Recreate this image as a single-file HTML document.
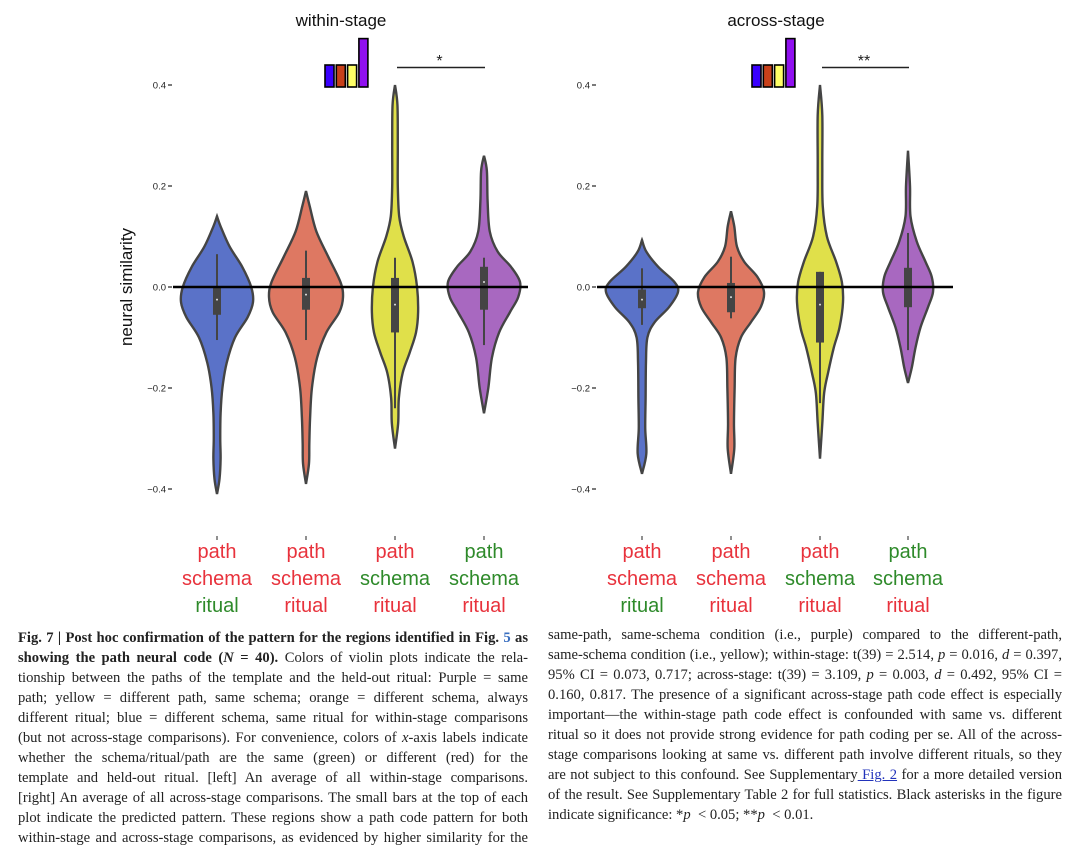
<!DOCTYPE html>
<html><head><meta charset="utf-8">
<style>
body{margin:0;background:#fff;width:1080px;height:848px;overflow:hidden;position:relative;font-family:"Liberation Sans",sans-serif}
svg{position:absolute;left:0;top:0}
.cap{position:absolute;font-family:"Liberation Serif",serif;font-size:14.6px;color:#222}
.cap div{height:20px;line-height:20px;text-align:justify;text-align-last:justify;white-space:nowrap}
.cap div.last{text-align-last:left}
a{color:#2233bb}
</style></head><body>
<svg id="chart" width="1080" height="620"></svg>
<div class="cap" style="left:18px;top:628px;width:510px">
<div><b>Fig. 7 | Post hoc confirmation of the pattern for the regions identified in Fig. <span style="color:#3a6fc0">5</span> as</b></div>
<div><b>showing the path neural code (<i>N</i> = 40).</b> Colors of violin plots indicate the rela-</div>
<div>tionship between the paths of the template and the held-out ritual: Purple = same</div>
<div>path; yellow = different path, same schema; orange = different schema, always</div>
<div>different ritual; blue = different schema, same ritual for within-stage comparisons</div>
<div>(but not across-stage comparisons). For convenience, colors of <i>x</i>-axis labels indicate</div>
<div>whether the schema/ritual/path are the same (green) or different (red) for the</div>
<div>template and held-out ritual. [left] An average of all within-stage comparisons.</div>
<div>[right] An average of all across-stage comparisons. The small bars at the top of each</div>
<div>plot indicate the predicted pattern. These regions show a path code pattern for both</div>
<div>within-stage and across-stage comparisons, as evidenced by higher similarity for the</div>
</div>
<div class="cap" style="left:548px;top:625px;width:514px">
<div>same-path, same-schema condition (i.e., purple) compared to the different-path,</div>
<div>same-schema condition (i.e., yellow); within-stage: t(39) = 2.514, <i>p</i> = 0.016, <i>d</i> = 0.397,</div>
<div>95% CI = 0.073, 0.717; across-stage: t(39) = 3.109, <i>p</i> = 0.003, <i>d</i> = 0.492, 95% CI =</div>
<div>0.160, 0.817. The presence of a significant across-stage path code effect is especially</div>
<div>important—the within-stage path code effect is confounded with same vs. different</div>
<div>ritual so it does not provide strong evidence for path coding per se. All of the across-</div>
<div>stage comparisons looking at same vs. different path involve different rituals, so they</div>
<div>are not subject to this confound. See Supplementary<a href="#"> Fig. 2</a> for a more detailed version</div>
<div>of the result. See Supplementary Table 2 for full statistics. Black asterisks in the figure</div>
<div class="last">indicate significance: *<i>p</i> &nbsp;&lt; 0.05; **<i>p</i> &nbsp;&lt; 0.01.</div>
</div>
<script>
// ---- data ----
const categories = ["same-ritual","diff-schema","same-schema","same-path"];
const fills = ["#5a72c8","#de7862","#e0e04a","#a868c0"];
const yTicks = [0.4,0.2,0.0,-0.2,-0.4];
const yTickLabels = ["0.4","0.2","0.0","\u22120.2","\u22120.4"];
// density profiles: [value, relative density]
const withinDensity = [
 [[0.14,0],[0.12,0.1],[0.08,0.35],[0.04,0.7],[0,0.95],[-0.03,1],[-0.06,0.85],[-0.1,0.5],[-0.15,0.27],[-0.2,0.15],[-0.25,0.1],[-0.3,0.09],[-0.34,0.1],[-0.38,0.07],[-0.41,0]],
 [[0.19,0],[0.16,0.1],[0.11,0.28],[0.06,0.6],[0.01,0.93],[-0.02,1],[-0.05,0.9],[-0.09,0.55],[-0.14,0.3],[-0.2,0.16],[-0.26,0.11],[-0.31,0.09],[-0.35,0.08],[-0.39,0]],
 [[0.40,0],[0.36,0.07],[0.28,0.08],[0.2,0.08],[0.14,0.12],[0.1,0.25],[0.05,0.5],[0.0,0.63],[-0.05,0.66],[-0.09,0.6],[-0.13,0.42],[-0.17,0.22],[-0.22,0.11],[-0.27,0.09],[-0.32,0]],
 [[0.26,0],[0.23,0.08],[0.17,0.1],[0.11,0.16],[0.07,0.38],[0.04,0.75],[0.01,1],[-0.02,0.95],[-0.05,0.72],[-0.09,0.42],[-0.14,0.22],[-0.2,0.12],[-0.25,0]]
];
const acrossDensity = [
 [[0.093,0],[0.07,0.12],[0.04,0.45],[0.01,0.9],[-0.01,1],[-0.04,0.75],[-0.07,0.35],[-0.1,0.15],[-0.15,0.11],[-0.22,0.1],[-0.28,0.09],[-0.33,0.12],[-0.37,0]],
 [[0.15,0],[0.12,0.1],[0.08,0.18],[0.05,0.4],[0.02,0.8],[-0.01,1],[-0.04,0.9],[-0.07,0.6],[-0.1,0.3],[-0.14,0.14],[-0.2,0.11],[-0.27,0.09],[-0.32,0.1],[-0.37,0]],
 [[0.40,0],[0.34,0.1],[0.24,0.1],[0.16,0.12],[0.1,0.3],[0.05,0.7],[0.01,0.95],[-0.03,1],[-0.08,0.85],[-0.12,0.6],[-0.17,0.35],[-0.21,0.18],[-0.27,0.1],[-0.34,0]],
 [[0.27,0],[0.2,0.08],[0.14,0.1],[0.09,0.35],[0.05,0.7],[0.02,0.95],[-0.01,1],[-0.04,0.8],[-0.08,0.5],[-0.12,0.3],[-0.16,0.15],[-0.19,0]]
];
const withinMax = [36,37,35,36];
const acrossMax = [36,33,23,25];
// box stats: [whiskerLow, q1, median, q3, whiskerHigh]
const withinBox = [[-0.105,-0.055,-0.025,0.0,0.065],[-0.105,-0.045,-0.015,0.018,0.072],[-0.24,-0.09,-0.035,0.018,0.058],[-0.115,-0.045,0.01,0.04,0.058]];
const acrossBox = [[-0.075,-0.042,-0.025,-0.005,0.037],[-0.062,-0.05,-0.02,0.008,0.06],[-0.23,-0.11,-0.035,0.03,0.03],[-0.125,-0.04,0.0,0.038,0.107]];
const predicted = [1,1,1,2.2];
const labelWords = ["path","schema","ritual"];
const labelSame = [[false,false,true],[false,false,false],[false,true,false],[true,true,false]];

const svg = document.getElementById('chart');
const NS = "http://www.w3.org/2000/svg";
function mk(tag, attrs, parent){const e=document.createElementNS(NS,tag);for(const k in attrs)e.setAttribute(k,attrs[k]);(parent||svg).appendChild(e);return e;}
function yScale(v){return 287 - v*505;}
function smooth(pts){let d="M"+pts[0][0]+","+pts[0][1];for(let i=0;i<pts.length-1;i++){const p0=pts[Math.max(0,i-1)],p1=pts[i],p2=pts[i+1],p3=pts[Math.min(pts.length-1,i+2)];const c1=[p1[0]+(p2[0]-p0[0])/6,p1[1]+(p2[1]-p0[1])/6],c2=[p2[0]-(p3[0]-p1[0])/6,p2[1]-(p3[1]-p1[1])/6];d+=`C${c1[0]},${c1[1]} ${c2[0]},${c2[1]} ${p2[0]},${p2[1]}`;}return d;}

function panel(cfg){
  const g=mk('g',{});
  
  
  const t=mk('text',{x:cfg.titleX,y:26,'text-anchor':'middle','font-size':17,fill:'#111'},g);
  t.textContent=cfg.title;
  
  
  yTicks.forEach((v,i)=>{
    const tx=mk('text',{x:cfg.axisX-7,y:yScale(v)+3.5,'text-anchor':'end','font-size':9.5,fill:'#222'},g);
    tx.textContent=yTickLabels[i];
    
    
    const tk=mk('line',{x1:cfg.axisX-5,x2:cfg.axisX-1,y1:yScale(v),y2:yScale(v),stroke:'#222','stroke-width':1.2},g);
    
    
  });
  cfg.centers.forEach((cx,i)=>{
    const dens=cfg.density[i], m=cfg.maxW[i];
    const right=dens.map(p=>[cx+p[1]*m,yScale(p[0])]);
    const left=dens.slice().reverse().map(p=>[cx-p[1]*m,yScale(p[0])]);
    const d=smooth(right)+" L"+smooth(left).slice(1)+"Z";
    const v=mk('path',{d:d,fill:fills[i],stroke:'#444','stroke-width':2.4},g);
    
    
    const b=cfg.box[i];
    const wl=mk('line',{x1:cx,x2:cx,y1:yScale(b[0]),y2:yScale(b[4]),stroke:'#444','stroke-width':2},g);
    
    
    const r=mk('rect',{x:cx-4,y:yScale(b[3]),width:8,height:yScale(b[1])-yScale(b[3]),fill:'#444'},g);
    
    
    const md=mk('circle',{cx:cx,cy:yScale(b[2]),r:1,fill:'#ddd'},g);
    
    
    labelWords.forEach((w,j)=>{
      const lt=mk('text',{x:cx,y:558+j*27,'text-anchor':'middle','font-size':20,fill:labelSame[i][j]?'#2e8a2a':'#e8323c'},g);
      lt.textContent=w;
      
      
    });
    const xt=mk('line',{x1:cx,x2:cx,y1:536,y2:540,stroke:'#222'},g);
    
    
  });
  const z=mk('line',{x1:cfg.axisX,x2:cfg.zeroEnd,y1:yScale(0),y2:yScale(0),stroke:'#000','stroke-width':2.5},g);
  
  
  const cols=['#3a00ff','#c8401a','#ffff66','#9010f0'];
  predicted.forEach((h,i)=>{
    const hh=h*22;
    const pb=mk('rect',{x:cfg.predX+i*11.3,y:87-hh,width:9,height:hh,fill:cols[i],stroke:'#000','stroke-width':1.6},g);
    
    
  });
  const sl=mk('line',{x1:cfg.centers[2]+2,x2:cfg.centers[3]+1,y1:67.5,y2:67.5,stroke:'#222','stroke-width':1.6},g);
  
  
  const st=mk('text',{x:(cfg.centers[2]+cfg.centers[3])/2,y:66,'text-anchor':'middle','font-size':16,fill:'#222'},g);
  st.textContent=cfg.stars;
  
  
}
panel({name:'within-stage-panel',title:'within-stage',titleX:341,axisX:173,zeroEnd:528,centers:[217,306,395,484],density:withinDensity,maxW:withinMax,box:withinBox,predX:325,stars:'*'});
panel({name:'across-stage-panel',title:'across-stage',titleX:776,axisX:597,zeroEnd:953,centers:[642,731,820,908],density:acrossDensity,maxW:acrossMax,box:acrossBox,predX:752,stars:'**'});
const yl=mk('text',{x:0,y:0,'text-anchor':'middle','font-size':17,fill:'#111',transform:'translate(132,287) rotate(-90)'});
yl.textContent='neural similarity';


</script>
</body></html>
